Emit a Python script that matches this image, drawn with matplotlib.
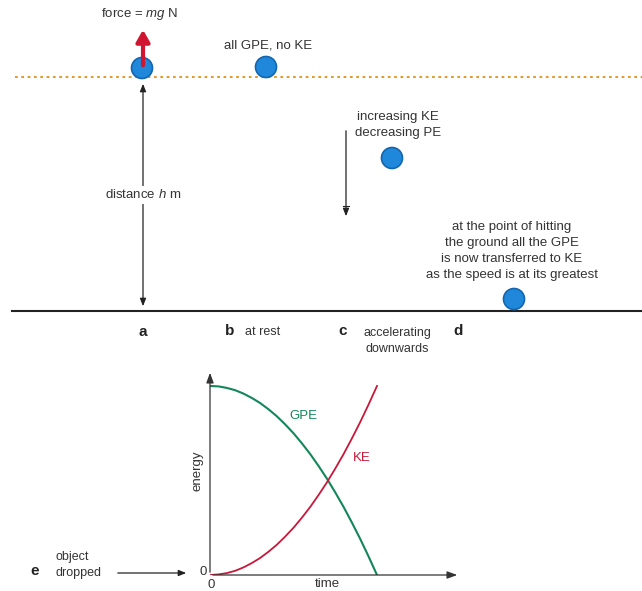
import matplotlib.pyplot as plt
from matplotlib.patches import Circle

plt.rcParams['font.family'] = ['Liberation Sans', 'DejaVu Sans']
plt.rcParams['mathtext.fontset'] = 'custom'
plt.rcParams['mathtext.rm'] = 'Liberation Sans'
plt.rcParams['mathtext.it'] = 'Liberation Sans:italic'

# energy graph (time and energy in relative units)
t = [0.0, 0.05, 0.1, 0.15, 0.2, 0.25, 0.3, 0.35, 0.4, 0.45, 0.5,
     0.55, 0.6, 0.65, 0.7, 0.75, 0.8, 0.85, 0.9, 0.95, 1.0]
gpe = [1.0, 0.998, 0.99, 0.978, 0.96, 0.937, 0.91, 0.877, 0.84, 0.797, 0.75,
       0.697, 0.64, 0.577, 0.51, 0.437, 0.36, 0.277, 0.19, 0.097, 0.0]
ke = [0.0, 0.003, 0.01, 0.022, 0.04, 0.063, 0.09, 0.123, 0.16, 0.203, 0.25,
      0.303, 0.36, 0.423, 0.49, 0.563, 0.64, 0.723, 0.81, 0.903, 1.0]

# ball positions in the sketch (pixels)
ball_x = [142, 266, 392, 514]
ball_y = [68, 67, 158, 299]

txt = '#333333'
green = '#13875a'
red = '#c8183a'
blue = '#1f88da'

fig = plt.figure(figsize=(6.42, 5.91), dpi=100)
ax = fig.add_axes([0, 0, 1, 1])
ax.set_xlim(0, 642)
ax.set_ylim(591, 0)
ax.axis('off')

# levels
ax.plot([15, 642], [77, 77], ls=(0, (1.5, 2)), color='#e0901a', lw=1.3)
ax.plot([12, 642], [311, 311], color='#222222', lw=1.5)

for bx, by in zip(ball_x, ball_y):
    ax.add_patch(Circle((bx, by), 10.5, facecolor=blue, edgecolor='#1566b0', lw=1.2, zorder=3))

# force arrow
ax.annotate('', xy=(143, 27), xytext=(143, 68),
            arrowprops=dict(arrowstyle='-|>,head_length=0.7,head_width=0.4', color='#d01530', lw=3), zorder=4)
ax.text(140, 14, 'force = $\\mathit{mg}$ N', ha='center', va='center', fontsize=9.5, color=txt)
ax.text(268, 45, 'all GPE, no KE', ha='center', va='center', fontsize=9.5, color=txt)

# distance arrow
ax.annotate('', xy=(143, 81), xytext=(143, 309),
            arrowprops=dict(arrowstyle='<|-|>,head_length=0.45,head_width=0.18', color='#222222', lw=0.9))
ax.text(143, 195, 'distance $\\mathit{h}$ m', ha='center', va='center', fontsize=9.5, color=txt,
        bbox=dict(facecolor='white', edgecolor='none', pad=2))

ax.text(398, 125, 'increasing KE\ndecreasing PE', ha='center', va='center', fontsize=9.5,
        color=txt, linespacing=1.45)
ax.annotate('', xy=(346, 219), xytext=(346, 128),
            arrowprops=dict(arrowstyle='-|>,head_length=0.45,head_width=0.18', color='#222222', lw=0.9))
ax.plot([343, 349], [206, 206], color='#222222', lw=0.8)

ax.text(512, 251, 'at the point of hitting\nthe ground all the GPE\nis now transferred to KE\nas the speed is at its greatest',
        ha='center', va='center', fontsize=9.5, color=txt, linespacing=1.45)

# stage labels
ax.text(143, 332, 'a', ha='center', va='center', fontsize=11, fontweight='bold', color='#222222')
ax.text(230, 331, 'b', ha='center', va='center', fontsize=11, fontweight='bold', color='#222222')
ax.text(245, 332, 'at rest', ha='left', va='center', fontsize=9, color=txt)
ax.text(343, 331, 'c', ha='center', va='center', fontsize=11, fontweight='bold', color='#222222')
ax.text(397, 341, 'accelerating\ndownwards', ha='center', va='center', fontsize=9, color=txt,
        linespacing=1.4)
ax.text(458, 331, 'd', ha='center', va='center', fontsize=11, fontweight='bold', color='#222222')
ax.text(35, 571, 'e', ha='center', va='center', fontsize=11, fontweight='bold', color='#222222')
ax.text(55, 565, 'object\ndropped', ha='left', va='center', fontsize=9, color=txt, linespacing=1.4)
ax.annotate('', xy=(189, 573), xytext=(115, 573),
            arrowprops=dict(arrowstyle='-|>,head_length=0.45,head_width=0.18', color='#222222', lw=0.9))

# energy graph
gx0, gx1, gy0, gy1 = 210, 460, 575, 370
g = fig.add_axes([gx0 / 642, (591 - gy0) / 591, (gx1 - gx0) / 642, (gy0 - gy1) / 591])
g.set_xlim(0, (gx1 - gx0) / 167)
g.set_ylim(0, (gy0 - gy1) / 189)
g.axis('off')
g.patch.set_alpha(0)
g.annotate('', xy=(1, 0), xytext=(0, 0), xycoords='axes fraction',
           arrowprops=dict(arrowstyle='-|>,head_length=0.6,head_width=0.22', color='#333333', lw=0.9))
g.annotate('', xy=(0, 1), xytext=(0, 0), xycoords='axes fraction',
           arrowprops=dict(arrowstyle='-|>,head_length=0.6,head_width=0.22', color='#333333', lw=0.9))
g.plot(t, gpe, color=green, lw=1.5)
g.plot(t, ke, color=red, lw=1.3)
g.text(0.56, 0.84, 'GPE', color=green, fontsize=9.5, ha='center', va='center')
g.text(0.91, 0.62, 'KE', color=red, fontsize=9.5, ha='center', va='center')

ax.text(203, 572, '0', ha='center', va='center', fontsize=9.5, color=txt)
ax.text(211, 585, '0', ha='center', va='center', fontsize=9.5, color=txt)
ax.text(327, 584, 'time', ha='center', va='center', fontsize=9.5, color=txt)
ax.text(198, 471, 'energy', ha='center', va='center', fontsize=9.5, color=txt, rotation=90)

fig.savefig('out.png', dpi=100)
